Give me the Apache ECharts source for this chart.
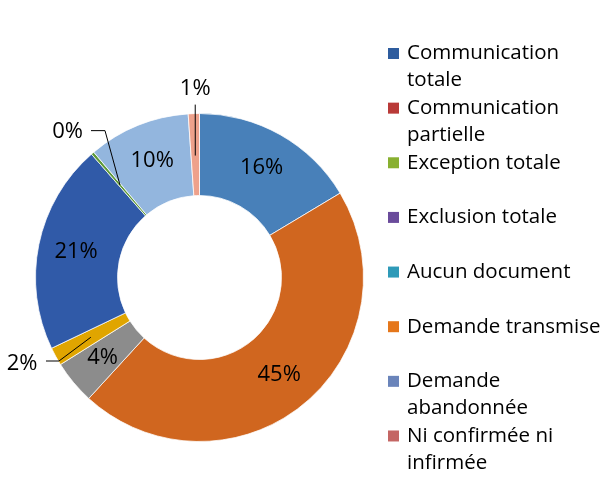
<!DOCTYPE html>
<html><head><meta charset="utf-8">
<script src="https://cdn.jsdelivr.net/npm/echarts@6/dist/echarts.min.js"></script>
<style>html,body{margin:0;padding:0;background:#fff}#c{width:610px;height:484px}</style>
</head><body><div id="c"></div>
<script>
// ---- data ----
const categories = ['Communication totale','Communication partielle','Exception totale','Exclusion totale','Aucun document','Demande transmise','Demande abandonnée','Ni confirmée ni infirmée'];
const legendLabels = ['Communication\ntotale','Communication\npartielle','Exception totale','Exclusion totale','Aucun document','Demande transmise','Demande\nabandonnée','Ni confirmée ni\ninfirmée'];
const values = [16.4, 45.4, 4.3, 1.8, 20.65, 0.3, 10.05, 1.1];

// ---- styles ----
const sliceColors = ['#4880b9','#d0661f','#8c8c8c','#e0a500','#305aa8','#5f9a3a','#93b6de','#eea18b'];
const legendColors = ['#2e5c9e','#b93a38','#88b030','#6a4b9b','#2e9ab8','#e5771b','#6a84ba','#c46664'];
const outsideIdx = [3, 5, 7];
// callout geometry relative to the library's label anchor (outer edge at mid angle)
const callout = {
  3: {inset: 40, label: [-18.3, 6.8], bend: [3.2, 4.5], end: [-9.8, 4.5], align: 'right'},
  5: {inset: 42, label: [-9.6, -21.5], bend: [12.4, -22.5], end: [-1.6, -22.5], align: 'right'},
  7: {inset: 42, label: [1.4, -25.3], bend: [1.4, -9], end: [1.4, -9], align: 'center'}
};

const FONT = 'Open Sans';
const LH = 27;
const CENTER = [199.5, 277.5];
const RADIUS = [82, 164];
const pctFmt = function (p) { return Math.round(p.percent) + '%'; };

const legends = categories.map(function (name, i) {
  const two = legendLabels[i].indexOf('\n') >= 0;
  const iconY = 53.5 + i * 54.64;
  return {
    show: true, orient: 'vertical', left: 388, top: two ? iconY - 1.5 * LH : iconY - 0.5 * LH,
    padding: 0, itemWidth: 11, itemHeight: 11, icon: 'rect', selectedMode: false,
    formatter: function (n) {
      const t = legendLabels[categories.indexOf(n)];
      return t.indexOf('\n') >= 0 ? '\n' + t : t;
    },
    textStyle: {fontFamily: FONT, fontSize: 20.5, lineHeight: LH, color: '#000', padding: [0, 0, 0, 3]},
    data: [{name: name, itemStyle: {color: legendColors[i], borderColor: legendColors[i], borderWidth: 0}}]
  };
});

const chart = echarts.init(document.getElementById('c'), null, {renderer: 'canvas'});
chart.setOption({
  animation: false,
  backgroundColor: '#fff',
  legend: legends,
  series: [{
    type: 'pie', z: 2,
    center: CENTER, radius: RADIUS, startAngle: 90, clockwise: true,
    avoidLabelOverlap: false,
    emphasis: {scale: false},
    itemStyle: {borderColor: '#ffffff', borderWidth: 0.75},
    label: {show: true, position: 'inside', color: '#000', fontFamily: FONT, fontSize: 22, formatter: pctFmt},
    labelLine: {show: false},
    data: categories.map(function (name, i) {
      const d = {name: name, value: values[i], itemStyle: {color: sliceColors[i]}};
      if (outsideIdx.indexOf(i) >= 0) d.label = {show: false};
      return d;
    })
  }, {
    // overlay carrying the callout labels of the thin slices, drawn above the ring
    type: 'pie', z: 5,
    center: CENTER, radius: RADIUS, startAngle: 90, clockwise: true,
    avoidLabelOverlap: false,
    emphasis: {scale: false},
    itemStyle: {color: '#ffffff', opacity: 0, borderWidth: 0},
    label: {show: true, position: 'outside', color: '#000', opacity: 1, fontFamily: FONT, fontSize: 22, formatter: pctFmt},
    labelLine: {show: true, showAbove: true, length: 10, length2: 5, smooth: false, lineStyle: {color: '#000', width: 1, opacity: 1}},
    labelLayout: function (p) {
      const s = callout[p.dataIndex];
      if (!s || !p.labelLinePoints || p.labelLinePoints.length < 2) return {};
      const a = p.labelLinePoints[0], b = p.labelLinePoints[1];
      const len = Math.hypot(b[0] - a[0], b[1] - a[1]) || 1;
      const ux = (b[0] - a[0]) / len, uy = (b[1] - a[1]) / len;
      return {
        x: a[0] + s.label[0], y: a[1] + s.label[1], align: s.align, verticalAlign: 'middle',
        labelLinePoints: [[a[0] - ux * s.inset, a[1] - uy * s.inset],
          [a[0] + s.bend[0], a[1] + s.bend[1]], [a[0] + s.end[0], a[1] + s.end[1]]]
      };
    },
    data: categories.map(function (name, i) {
      const d = {name: name, value: values[i]};
      if (outsideIdx.indexOf(i) < 0) { d.label = {show: false}; d.labelLine = {show: false}; }
      return d;
    })
  }]
});
</script>
</body></html>
